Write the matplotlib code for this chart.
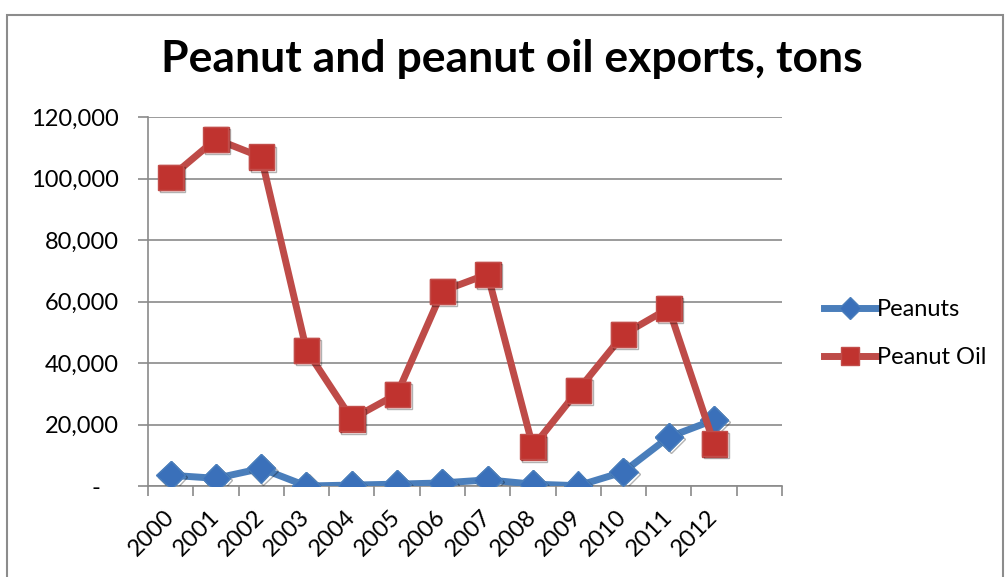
import matplotlib.pyplot as plt
import matplotlib.patheffects as pe
from matplotlib.patches import Rectangle
from matplotlib.ticker import FuncFormatter, FixedLocator

years = ['2000', '2001', '2002', '2003', '2004', '2005', '2006',
         '2007', '2008', '2009', '2010', '2011', '2012']
peanuts = [3500, 2500, 5700, 0, 300, 600, 1000, 2000, 600, 100, 4600, 15900, 21500]
peanut_oil = [100400, 112800, 107000, 44200, 21800, 29900, 63400,
              68900, 12700, 31200, 49300, 57800, 13800]

n_slots = len(years) + 1  # one empty category at the end of the axis

plt.rcParams['font.family'] = ['Lato', 'DejaVu Sans']

fig = plt.figure(figsize=(10.06, 5.77), dpi=100)
ax = fig.add_axes([0.1471, 0.1577, 0.6302, 0.6395])

# outer chart frame
fig.patches.append(Rectangle((0.007, -0.05), 0.990, 1.024, transform=fig.transFigure,
                             fill=False, edgecolor='#8c8c8c', linewidth=1.5))

x = list(range(len(years)))
shadow = [pe.SimpleLineShadow(offset=(1.5, -1.5), alpha=0.3), pe.Normal()]

blue = dict(color='#4A7EBB', marker='D', markersize=14.5, markerfacecolor='#3A70BA',
            markeredgecolor='#4A7EBB', markeredgewidth=1)
red = dict(color='#BE4B48', marker='s', markersize=18, markerfacecolor='#C0332F',
           markeredgecolor='#C24D4A', markeredgewidth=1)

ax.plot(x, peanuts, linewidth=5, label='Peanuts', zorder=3, **blue)
ax.plot(x, peanuts, linestyle='none', path_effects=shadow, zorder=3.5, **blue)
ax.plot(x, peanut_oil, linewidth=5, label='Peanut Oil', zorder=4, **red)
ax.plot(x, peanut_oil, linestyle='none', path_effects=shadow, zorder=4.5, **red)

ax.set_xlim(-0.5, n_slots - 0.5)
ax.set_ylim(0, 120000)
ax.set_yticks(range(0, 120001, 20000))
ax.yaxis.set_major_formatter(FuncFormatter(lambda v, p: '-   ' if v == 0 else f'{v:,.0f}'))
ax.grid(axis='y', color='#8a8a8a', linewidth=1.2)
ax.set_axisbelow(True)

ax.xaxis.set_major_locator(FixedLocator([i - 0.5 for i in range(n_slots + 1)]))
ax.xaxis.set_major_formatter(FuncFormatter(lambda v, p: ''))
ax.set_xticks(x, minor=True)
ax.set_xticklabels(years, minor=True, rotation=45, ha='right', va='center',
                   rotation_mode='anchor', fontsize=17)
ax.tick_params(axis='x', which='minor', length=0, pad=20)
ax.tick_params(axis='x', which='major', length=7, width=1.2, color='#8a8a8a')
ax.tick_params(axis='y', length=7, width=1.2, color='#8a8a8a', labelsize=17, pad=14)

for side in ('top', 'right'):
    ax.spines[side].set_visible(False)
for side in ('left', 'bottom'):
    ax.spines[side].set_color('#8a8a8a')
    ax.spines[side].set_linewidth(1.2)

fig.text(0.509, 0.898, 'Peanut and peanut oil exports, tons', ha='center', va='center',
         fontsize=32, fontweight='bold')

fig.legend(loc='center left', bbox_to_anchor=(0.807, 0.422), frameon=False,
           fontsize=17, handlelength=2.25, handletextpad=0.0, labelspacing=1.15,
           borderpad=0, markerscale=0.75, numpoints=1)

fig.savefig('out.png', dpi=100)
